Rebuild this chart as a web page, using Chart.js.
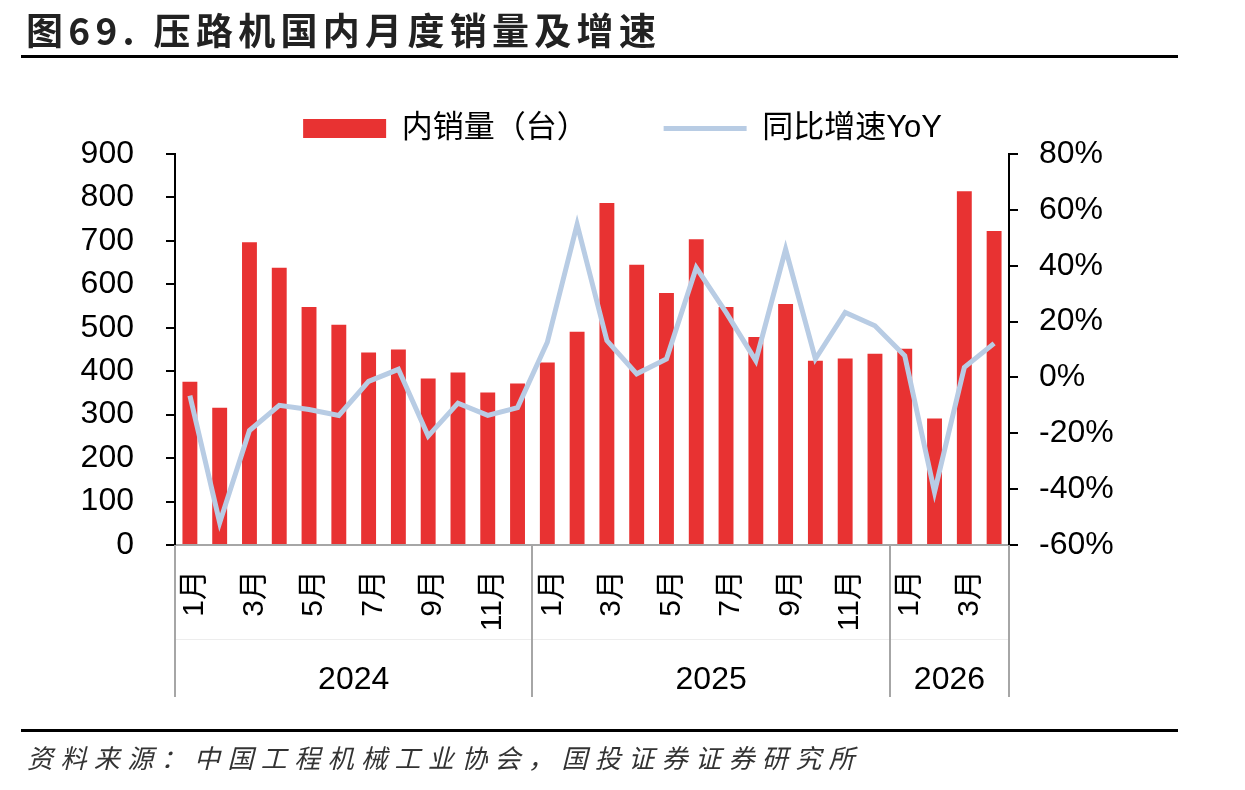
<!DOCTYPE html>
<html>
<head>
<meta charset="utf-8">
<script src="https://cdn.jsdelivr.net/npm/chart.js@4.4.1/dist/chart.umd.min.js"></script>
<style>
  html, body { margin: 0; padding: 0; background: #fff; }
  #wrap { position: relative; width: 1245px; height: 790px; overflow: hidden; }
  #chartBox { position: absolute; left: 0; top: 0; width: 1245px; height: 790px; }
  #title { position: absolute; left: 26px; top: 6px; font: bold 37px 'Noto Sans CJK SC', sans-serif; letter-spacing: 5.3px; line-height: 46px; color: #222; white-space: nowrap; }
  .rule { position: absolute; left: 21px; width: 1157px; height: 3px; background: #000; }
  #source { position: absolute; left: 27px; top: 739px; font: italic 26px 'Noto Sans CJK SC', sans-serif; letter-spacing: 7.4px; line-height: 36px; color: #333; white-space: nowrap; }
</style>
</head>
<body>
<div id="wrap">
  <div id="chartBox"><canvas id="c"></canvas></div>
  <div id="title">图69. 压路机国内月度销量及增速</div>
  <div class="rule" style="top:55px"></div>
  <div class="rule" style="top:729px"></div>
  <div id="source">资料来源：中国工程机械工业协会，国投证券证券研究所</div>
</div>
<script>
// ---- data ----
const categories = ['1月','2月','3月','4月','5月','6月','7月','8月','9月','10月','11月','12月',
                    '1月','2月','3月','4月','5月','6月','7月','8月','9月','10月','11月','12月',
                    '1月','2月','3月','4月'];
const yearLabels = ['2024', '2025', '2026'];
const yearMonthCounts = [12, 12, 4];
const salesValues = [376, 316, 697, 638, 548, 507, 443, 450, 383, 397, 351, 372,
                     420, 491, 787, 645, 580, 704, 548, 479, 555, 424, 429, 440,
                     452, 291, 814, 723];
const yoyValues = [-6.5, -52, -19, -10, -11.5, -13.6, -1.4, 2.9, -21, -9.2, -13.6, -10.8,
                   12.6, 54.8, 13.2, 1.3, 6.6, 39.3, 23.3, 6, 45.9, 6.6, 23.3, 18.5,
                   7.8, -41, 3.6, 12.2];
const salesTicks = { min: 0, max: 900, step: 100 };
const yoyTicks = { min: -60, max: 80, step: 20 };

const FONT = "'Liberation Sans', 'Noto Sans CJK SC', sans-serif";

const yearRowPlugin = {
  id: 'yearRow',
  afterDraw(chart) {
    const x = chart.scales.x;
    const ctx = chart.ctx;
    const area = chart.chartArea;
    const half = (x.getPixelForValue(1) - x.getPixelForValue(0)) / 2;
    const bottom = 697;
    ctx.save();
    ctx.strokeStyle = '#ededed';
    ctx.lineWidth = 1;
    ctx.beginPath();
    ctx.moveTo(area.left, 639.5);
    ctx.lineTo(area.right, 639.5);
    ctx.stroke();
    ctx.strokeStyle = '#a6a6a6';
    ctx.lineWidth = 2;
    ctx.fillStyle = '#000';
    ctx.font = '32px ' + FONT;
    ctx.textAlign = 'center';
    ctx.textBaseline = 'middle';
    let start = 0;
    const bounds = [];
    yearLabels.forEach((label, gi) => {
      const n = yearMonthCounts[gi];
      const l = x.getPixelForValue(start) - half;
      const r = x.getPixelForValue(start + n - 1) + half;
      bounds.push(l, r);
      ctx.fillText(label, (l + r) / 2, 680);
      start += n;
    });
    const uniq = [...new Set(bounds.map(v => Math.round(v)))];
    uniq.forEach(bx => {
      ctx.beginPath();
      ctx.moveTo(bx, area.bottom);
      ctx.lineTo(bx, bottom);
      ctx.stroke();
    });
    ctx.restore();
  }
};

new Chart(document.getElementById('c'), {
  type: 'bar',
  data: {
    labels: categories,
    datasets: [
      {
        label: '内销量（台）',
        data: salesValues,
        backgroundColor: '#e83232',
        borderWidth: 0,
        barPercentage: 0.5,
        categoryPercentage: 1.0,
        yAxisID: 'y',
        order: 2,
        pointStyle: 'rect'
      },
      {
        type: 'line',
        label: '同比增速YoY',
        data: yoyValues,
        borderColor: '#b8cce4',
        backgroundColor: '#b8cce4',
        borderWidth: 5,
        pointRadius: 0,
        pointHoverRadius: 0,
        tension: 0,
        yAxisID: 'y1',
        order: 1,
        pointStyle: 'line'
      }
    ]
  },
  options: {
    responsive: true,
    maintainAspectRatio: false,
    animation: false,
    events: [],
    layout: { padding: { top: 37, left: 0, right: 0, bottom: 93 } },
    plugins: {
      tooltip: { enabled: false },
      legend: {
        display: true,
        position: 'top',
        labels: {
          usePointStyle: true,
          pointStyleWidth: 83,
          boxHeight: 19,
          padding: 76,
          color: '#000',
          font: { family: FONT, size: 31 },
          sort: (a, b) => a.datasetIndex - b.datasetIndex
        }
      }
    },
    scales: {
      x: {
        type: 'category',
        offset: true,
        grid: { display: false, drawTicks: false },
        border: { display: true, color: '#a6a6a6', width: 2 },
        ticks: {
          autoSkip: false,
          minRotation: 90,
          maxRotation: 90,
          padding: 25,
          labelOffset: 5,
          color: '#000',
          font: { family: FONT, size: 30 },
          callback: (v, i) => (i % 2 === 0 ? categories[i] : '')
        },
        afterFit: (s) => { s.height = 152; }
      },
      y: {
        position: 'left',
        min: salesTicks.min,
        max: salesTicks.max,
        ticks: { stepSize: salesTicks.step, color: '#000', padding: 32, font: { family: FONT, size: 32 } },
        grid: { drawOnChartArea: false, drawTicks: true, tickLength: 9, color: '#000', lineWidth: 2 },
        border: { display: true, color: '#000', width: 2 },
        afterFit: (s) => { s.width = 175; }
      },
      y1: {
        position: 'right',
        min: yoyTicks.min,
        max: yoyTicks.max,
        ticks: { stepSize: yoyTicks.step, color: '#000', padding: 21, font: { family: FONT, size: 32 },
                 callback: (v) => v + '%' },
        grid: { drawOnChartArea: false, drawTicks: true, tickLength: 9, color: '#000', lineWidth: 2 },
        border: { display: true, color: '#000', width: 2 },
        afterFit: (s) => { s.width = 236; }
      }
    }
  },
  plugins: [yearRowPlugin]
});
</script>
</body>
</html>
